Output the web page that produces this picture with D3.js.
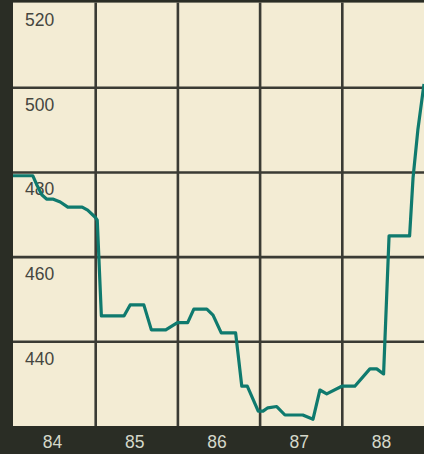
<!DOCTYPE html>
<html>
<head>
<meta charset="utf-8">
<script src="https://cdn.jsdelivr.net/npm/d3@7"></script>
<style>
  html, body { margin: 0; padding: 0; background: #2a2d25; }
  svg { display: block; }
</style>
</head>
<body>
<script>
// Index level, 1984–1988; x positions are months counted from January 1984
const months = [0, 2.9, 3.5, 4.2, 4.9, 5.8, 6.9, 8.0, 10.1, 10.9, 12.0, 12.3,
  12.9, 16.2, 17.1, 19.1, 20.2, 22.3, 24.0, 25.5, 26.4, 28.3, 29.2, 30.4,
  32.5, 33.4, 34.2, 35.8, 36.5, 37.2, 38.5, 39.7, 42.3, 43.8, 44.8, 45.8,
  48.0, 49.9, 52.1, 53.1, 54.1, 54.9, 57.9, 58.4, 59.1, 60];
const values = [479.1, 479.1, 476.9, 474.6, 473.6, 473.6, 472.9, 471.7, 471.7, 471.0, 469.3, 468.6,
  446.0, 446.0, 448.6, 448.6, 442.7, 442.7, 444.4, 444.4, 447.6, 447.6, 446.2, 442.0,
  442.0, 429.4, 429.4, 423.5, 423.5, 424.3, 424.6, 422.6, 422.6, 421.6, 428.5, 427.6,
  429.4, 429.4, 433.5, 433.5, 432.3, 464.9, 464.9, 478.6, 489.9, 500.8];
const yearLabels = ["84", "85", "86", "87", "88"];
const yTicks = [520, 500, 480, 460, 440];

const W = 424, H = 454;
const plot = { left: 13, right: 424, top: 2.6, bottom: 426 };

const svg = d3.select("body").append("svg")
  .attr("width", W).attr("height", H);

// dark frame
svg.append("rect").attr("width", W).attr("height", H).attr("fill", "#2a2d25");

// cream panel
svg.append("rect")
  .attr("x", plot.left).attr("y", plot.top)
  .attr("width", plot.right - plot.left).attr("height", plot.bottom - plot.top)
  .attr("fill", "#f3ecd4");

const x = d3.scaleLinear().domain([0, 60]).range([plot.left, plot.right]);
const y = d3.scaleLinear().domain([420, 520]).range([plot.bottom, plot.top]);

// horizontal grid lines
const gy = svg.append("g")
  .attr("transform", `translate(${plot.left},0)`)
  .call(d3.axisRight(y).tickValues([500, 480, 460, 440])
    .tickSize(plot.right - plot.left).tickFormat(""));
gy.select(".domain").remove();
gy.selectAll(".tick line").attr("stroke", "#3a3b34").attr("stroke-width", 2.6);

// vertical grid lines at year boundaries
const gx = svg.append("g")
  .attr("transform", `translate(0,${plot.top})`)
  .call(d3.axisBottom(x).tickValues([12, 24, 36, 48])
    .tickSize(plot.bottom - plot.top).tickFormat(""));
gx.select(".domain").remove();
gx.selectAll(".tick line").attr("stroke", "#3a3b34").attr("stroke-width", 2.6);

// y labels sit just below their grid line
svg.append("g").selectAll("text")
  .data(yTicks)
  .join("text")
  .attr("x", 25)
  .attr("y", d => y(d) + 23.5)
  .attr("font-family", "'Liberation Sans', Arial, Helvetica, sans-serif")
  .attr("font-size", 17.5)
  .attr("fill", "#45463f")
  .text(d => d);

// the index line
const line = d3.line()
  .x((d, i) => x(months[i]))
  .y(d => y(d));

svg.append("path")
  .datum(values)
  .attr("d", line)
  .attr("fill", "none")
  .attr("stroke", "#0f7a6e")
  .attr("stroke-width", 3.2)
  .attr("stroke-linejoin", "round");

// bottom strip (drawn after, covering anything below the plot)
svg.append("rect")
  .attr("x", 0).attr("y", plot.bottom)
  .attr("width", W).attr("height", H - plot.bottom)
  .attr("fill", "#2a2d25");

// year labels centred in each year band
const xa = svg.append("g")
  .attr("transform", `translate(-2,${plot.bottom})`)
  .call(d3.axisBottom(x).tickValues([6, 18, 30, 42, 54])
    .tickSize(0).tickPadding(10)
    .tickFormat((d, i) => yearLabels[i]));
xa.select(".domain").remove();
xa.selectAll("text")
  .attr("font-family", "'Liberation Sans', Arial, Helvetica, sans-serif")
  .attr("font-size", 17.5)
  .attr("fill", "#d5d8ca");
</script>
</body>
</html>
